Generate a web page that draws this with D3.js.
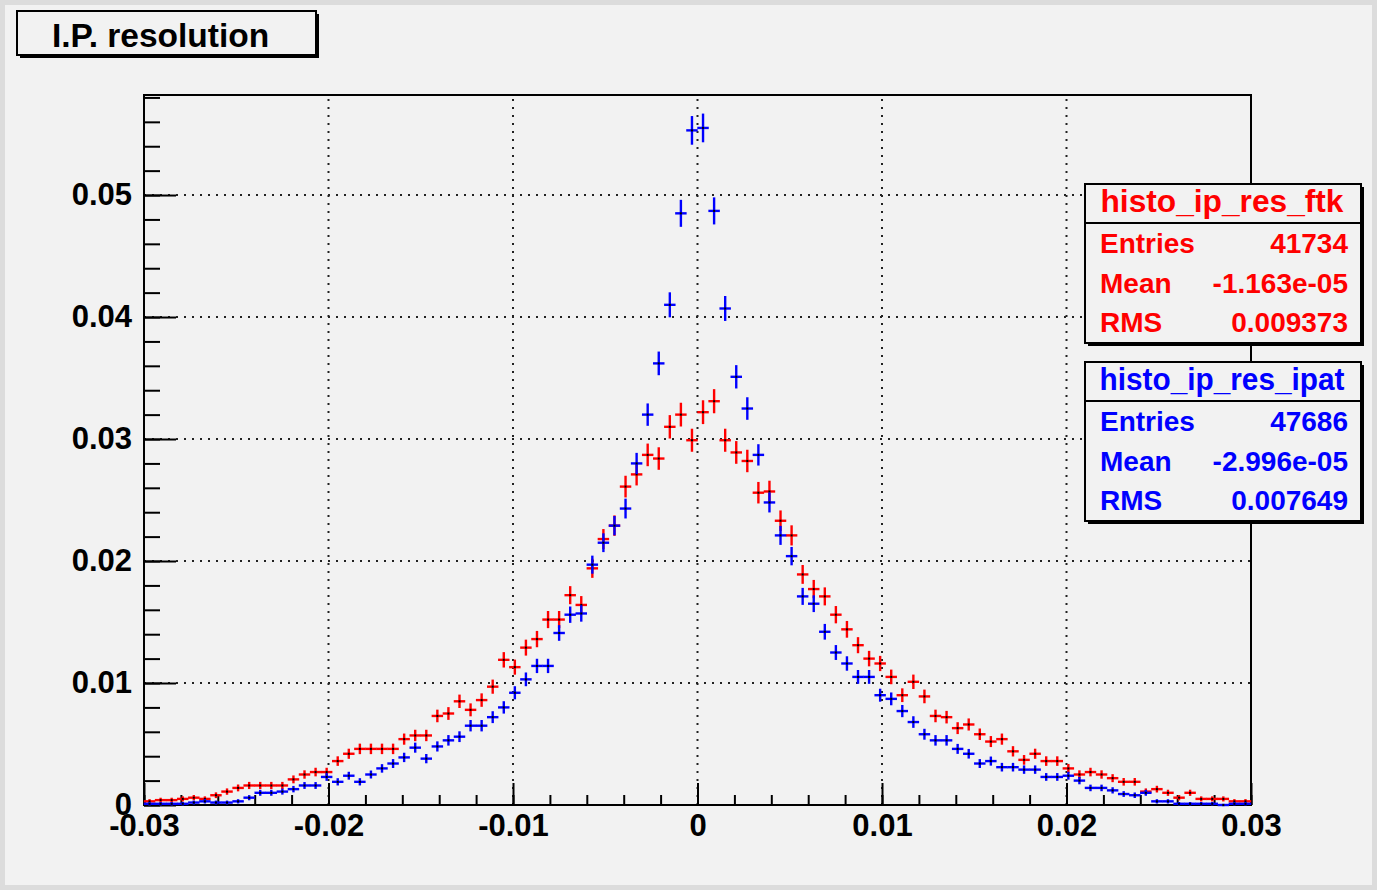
<!DOCTYPE html>
<html>
<head>
<meta charset="utf-8">
<script src="https://cdn.jsdelivr.net/npm/d3@7"></script>
<style>
  body { margin: 0; background: #dcdcdc; }
  text { font-family: 'Liberation Sans', Arial, Helvetica, sans-serif; font-weight: bold; }
</style>
</head>
<body>
<script>
// histogram binning
const xLow = -0.03, xHigh = 0.03, binWidth = 0.0006;

const ftkValues = [
  0.0003, 0.0004, 0.0004, 0.0005, 0.0006, 0.0005, 0.0008, 0.0011, 0.0014, 0.0016,
  0.0016, 0.0016, 0.0016, 0.0021, 0.0025, 0.0027, 0.0027, 0.0036, 0.0042, 0.0046,
  0.0046, 0.0046, 0.0046, 0.0054, 0.0057, 0.0057, 0.0073, 0.0075, 0.0085, 0.0078,
  0.0086, 0.0097, 0.0119, 0.0113, 0.0129, 0.0136, 0.0152, 0.0152, 0.0172, 0.0164,
  0.0194, 0.0218, 0.0229, 0.0261, 0.0271, 0.0287, 0.0284, 0.0310, 0.0320, 0.0299,
  0.0322, 0.0331, 0.0299, 0.0289, 0.0282, 0.0256, 0.0257, 0.0233, 0.0221, 0.0189,
  0.0177, 0.0171, 0.0156, 0.0144, 0.0131, 0.0120, 0.0116, 0.0105, 0.0090, 0.0101,
  0.0089, 0.0073, 0.0072, 0.0063, 0.0066, 0.0058, 0.0052, 0.0054, 0.0044, 0.0037,
  0.0042, 0.0036, 0.0036, 0.0030, 0.0025, 0.0027, 0.0025, 0.0022, 0.0019, 0.0019,
  0.0011, 0.0013, 0.0010, 0.0006, 0.0010, 0.0005, 0.0005, 0.0005, 0.0003, 0.0003
];

const ipatValues = [
  0.0001, 0.0001, 0.0001, 0.0001, 0.0002, 0.0003, 0.0002, 0.0002, 0.0003, 0.0006,
  0.0010, 0.0010, 0.0011, 0.0013, 0.0016, 0.0016, 0.0023, 0.0019, 0.0024, 0.0019,
  0.0025, 0.0030, 0.0034, 0.0039, 0.0047, 0.0038, 0.0048, 0.0053, 0.0056, 0.0065,
  0.0065, 0.0072, 0.0080, 0.0092, 0.0103, 0.0114, 0.0114, 0.0141, 0.0156, 0.0157,
  0.0197, 0.0215, 0.0229, 0.0243, 0.0280, 0.0320, 0.0362, 0.0410, 0.0485, 0.0553,
  0.0555, 0.0487, 0.0407, 0.0351, 0.0325, 0.0287, 0.0248, 0.0221, 0.0204, 0.0171,
  0.0165, 0.0142, 0.0125, 0.0116, 0.0105, 0.0105, 0.0090, 0.0087, 0.0077, 0.0068,
  0.0058, 0.0053, 0.0053, 0.0046, 0.0042, 0.0034, 0.0036, 0.0031, 0.0031, 0.0029,
  0.0029, 0.0023, 0.0023, 0.0024, 0.0020, 0.0014, 0.0014, 0.0012, 0.0009, 0.0008,
  0.0010, 0.0003, 0.0003, 0.0001, 0.0001, 0.0001, 0.0001, 0.0000, 0.0001, 0.0001
];

const xTicks = [-0.03, -0.02, -0.01, 0, 0.01, 0.02, 0.03];
const xTickLabels = ['-0.03', '-0.02', '-0.01', '0', '0.01', '0.02', '0.03'];
const yTicks = [0, 0.01, 0.02, 0.03, 0.04, 0.05];
const yTickLabels = ['0', '0.01', '0.02', '0.03', '0.04', '0.05'];
const yMax = 0.0582;

const stats = [
  { name: 'histo_ip_res_ftk', color: '#ff0000', entries: '41734', mean: '-1.163e-05', rms: '0.009373' },
  { name: 'histo_ip_res_ipat', color: '#0000ff', entries: '47686', mean: '-2.996e-05', rms: '0.007649' }
];
const entriesN = [41734, 47686];

const svgWidth = 1377, svgHeight = 890;
const frame = { left: 144, right: 1251, top: 95, bottom: 805 };

const svg = d3.select('body')
  .append('svg')
  .attr('width', svgWidth)
  .attr('height', svgHeight);

svg.append('rect')
  .attr('x', 5).attr('y', 5)
  .attr('width', svgWidth - 10).attr('height', svgHeight - 10)
  .attr('fill', '#f2f2f2');

const xScale = d3.scaleLinear()
  .domain([xLow, xHigh])
  .range([frame.left, frame.right]);

const yScale = d3.scaleLinear()
  .domain([0, yMax])
  .range([frame.bottom, frame.top]);

function drawGrid() {
  const grid = svg.append('g')
    .attr('stroke', '#222')
    .attr('stroke-width', 2)
    .attr('stroke-dasharray', '2,6');

  grid.selectAll('.gx')
    .data(xTicks.slice(1, -1))
    .enter()
    .append('line')
    .attr('x1', d => xScale(d)).attr('x2', d => xScale(d))
    .attr('y1', frame.bottom).attr('y2', frame.top);

  grid.selectAll('.gy')
    .data(yTicks.slice(1))
    .enter()
    .append('line')
    .attr('x1', frame.left).attr('x2', frame.right)
    .attr('y1', d => yScale(d)).attr('y2', d => yScale(d));
}

function drawAxes() {
  const minorX = d3.range(-15, 16).map(d => d / 500);
  const minorY = d3.range(0, 30).map(d => d / 500).filter(d => d <= yMax);

  svg.append('g')
    .attr('transform', `translate(0, ${frame.bottom})`)
    .call(d3.axisBottom(xScale).tickValues(minorX).tickSize(-10).tickFormat(''))
    .call(g => g.select('.domain').remove());

  svg.append('g')
    .attr('class', 'xaxis')
    .attr('transform', `translate(0, ${frame.bottom})`)
    .call(d3.axisBottom(xScale).tickValues(xTicks).tickSize(-22).tickPadding(9)
      .tickFormat((d, i) => xTickLabels[i]))
    .call(g => g.select('.domain').remove());

  svg.append('g')
    .attr('transform', `translate(${frame.left}, 0)`)
    .call(d3.axisLeft(yScale).tickValues(minorY).tickSize(-16).tickFormat(''))
    .call(g => g.select('.domain').remove());

  svg.append('g')
    .attr('class', 'yaxis')
    .attr('transform', `translate(${frame.left}, 0)`)
    .call(d3.axisLeft(yScale).tickValues(yTicks).tickSize(-32).tickPadding(12)
      .tickFormat((d, i) => yTickLabels[i]))
    .call(g => g.select('.domain').remove());

  svg.selectAll('.tick line')
    .attr('stroke', '#000')
    .attr('stroke-width', 2);

  svg.selectAll('.xaxis text')
    .attr('fill', '#000')
    .style('font-size', '31px');

  svg.selectAll('.yaxis text')
    .attr('fill', '#000')
    .style('font-size', '31px');

  svg.append('rect')
    .attr('x', frame.left).attr('y', frame.top)
    .attr('width', frame.right - frame.left)
    .attr('height', frame.bottom - frame.top)
    .attr('fill', 'none')
    .attr('stroke', '#000')
    .attr('stroke-width', 2);
}

function drawHisto(values, color, entries) {
  const g = svg.append('g')
    .attr('stroke', color)
    .attr('stroke-width', 2.4)
    .attr('stroke-linecap', 'square');

  const bins = values.map((v, i) => ({
    lo: xLow + i * binWidth,
    hi: xLow + (i + 1) * binWidth,
    v: v,
    err: Math.sqrt(v / entries)
  }));

  g.selectAll('.h')
    .data(bins)
    .enter()
    .append('line')
    .attr('x1', d => xScale(d.lo) + 1).attr('x2', d => xScale(d.hi) - 1)
    .attr('y1', d => yScale(d.v)).attr('y2', d => yScale(d.v));

  g.selectAll('.v')
    .data(bins)
    .enter()
    .append('line')
    .attr('x1', d => xScale((d.lo + d.hi) / 2)).attr('x2', d => xScale((d.lo + d.hi) / 2))
    .attr('y1', d => yScale(d.v - d.err)).attr('y2', d => yScale(d.v + d.err));

  svg.append('g').selectAll('rect')
    .data(bins)
    .enter()
    .append('rect')
    .attr('x', d => xScale((d.lo + d.hi) / 2) - 1)
    .attr('y', d => yScale(d.v) - 1)
    .attr('width', 2).attr('height', 2)
    .attr('fill', '#000');
}

function shadowBox(x, y, w, h) {
  svg.append('rect')
    .attr('x', x + 3).attr('y', y + 3)
    .attr('width', w).attr('height', h)
    .attr('fill', '#000');
  svg.append('rect')
    .attr('x', x).attr('y', y)
    .attr('width', w).attr('height', h)
    .attr('fill', '#f2f2f2')
    .attr('stroke', '#000')
    .attr('stroke-width', 2);
}

function drawStats() {
  const boxTops = [184, 362];
  const nameWidths = [243, 245];
  stats.forEach((s, i) => {
    const top = boxTops[i];
    shadowBox(1085, top, 276, 159);

    svg.append('line')
      .attr('x1', 1085).attr('x2', 1361)
      .attr('y1', top + 39).attr('y2', top + 39)
      .attr('stroke', '#000')
      .attr('stroke-width', 2);

    svg.append('text')
      .attr('x', 1222).attr('y', top + 28)
      .attr('text-anchor', 'middle')
      .attr('fill', s.color)
      .attr('textLength', nameWidths[i])
      .attr('lengthAdjust', 'spacingAndGlyphs')
      .style('font-size', '31px')
      .text(s.name);

    const rows = [['Entries', s.entries], ['Mean', s.mean], ['RMS', s.rms]];
    rows.forEach((r, j) => {
      const base = top + 69 + j * 39.5;
      svg.append('text')
        .attr('x', 1100).attr('y', base)
        .attr('fill', s.color)
        .style('font-size', '28px')
        .text(r[0]);
      svg.append('text')
        .attr('x', 1348).attr('y', base)
        .attr('text-anchor', 'end')
        .attr('fill', s.color)
        .style('font-size', '28px')
        .text(r[1]);
    });
  });
}

function drawTitle() {
  shadowBox(17, 11, 299, 44);
  svg.append('text')
    .attr('x', 52).attr('y', 47)
    .attr('fill', '#000')
    .style('font-size', '33.5px')
    .text('I.P. resolution');
}

drawGrid();
drawAxes();
drawHisto(ftkValues, '#ff0000', entriesN[0]);
drawHisto(ipatValues, '#0000ff', entriesN[1]);
drawStats();
drawTitle();
</script>
</body>
</html>
